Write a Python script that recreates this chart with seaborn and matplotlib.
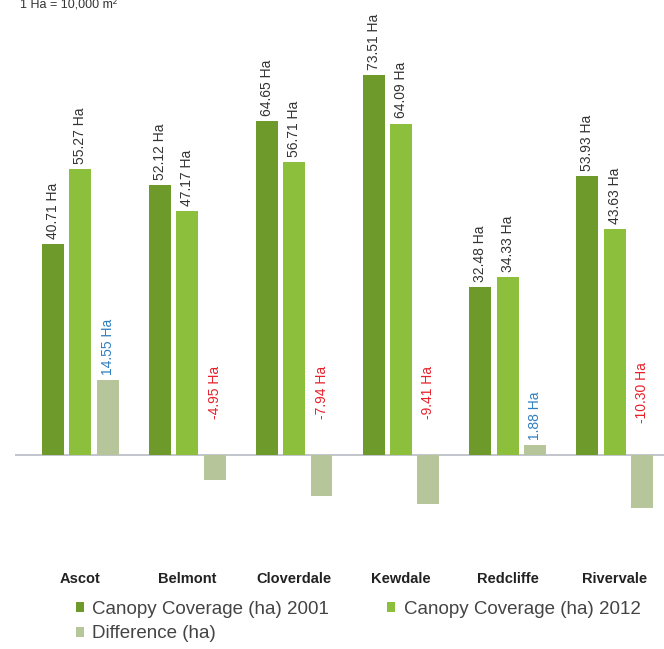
import matplotlib
matplotlib.use("Agg")
import matplotlib.pyplot as plt
import seaborn as sns
import pandas as pd
import numpy as np
from matplotlib.patches import Patch

suburbs = ["Ascot", "Belmont", "Cloverdale", "Kewdale", "Redcliffe", "Rivervale"]
cov_2001 = [40.71, 52.12, 64.65, 73.51, 32.48, 53.93]
cov_2012 = [55.27, 47.17, 56.71, 64.09, 34.33, 43.63]
difference = [14.55, -4.95, -7.94, -9.41, 1.88, -10.30]
series = ["Canopy Coverage (ha) 2001", "Canopy Coverage (ha) 2012", "Difference (ha)"]
colors = ["#6e9a2c", "#8cbf3c", "#b7c59a"]

df = pd.DataFrame({
    "Suburb": suburbs * 3,
    "Series": [series[0]] * 6 + [series[1]] * 6 + [series[2]] * 6,
    "Value": cov_2001 + cov_2012 + difference,
})

sns.set_theme(style="white")
plt.rcParams["font.family"] = ["Liberation Sans", "DejaVu Sans"]

fig = plt.figure(figsize=(6.64, 6.49), dpi=100)
ax = fig.add_axes([15 / 664, (649 - 565) / 649, 1 - 15 / 664, 565 / 649])

sns.barplot(data=df, x="Suburb", y="Value", hue="Series", hue_order=series,
            palette=colors, width=0.77, gap=0.2, ax=ax, legend=False,
            edgecolor="none", saturation=1)

ax.set_xlim(-0.61, 5.46)
ax.set_ylim(-21.3, 88.0)
for s in ax.spines.values():
    s.set_visible(False)
ax.set_yticks([])
ax.set_xlabel("")
ax.set_ylabel("")
ax.axhline(0, color="#b8bcc4", lw=1.2, zorder=0)
ax.tick_params(axis="x", length=0, pad=5)
for lbl in ax.get_xticklabels():
    lbl.set_fontweight("bold")
    lbl.set_fontsize(10.5)
    lbl.set_color("#222222")

vals = [cov_2001, cov_2012, difference]
for si, cont in enumerate(ax.containers):
    for bar, v in zip(cont, vals[si]):
        xc = bar.get_x() + bar.get_width() / 2
        txt = f"{v:.2f} Ha"
        if si < 2:
            ax.text(xc, v + 1.0, txt, rotation=90, ha="center", va="bottom",
                    fontsize=10, color="#333333")
        elif v >= 0:
            ax.text(xc, v + 1.0, txt, rotation=90, ha="center", va="bottom",
                    fontsize=10, color="#2f7fc1")
        else:
            ax.text(xc, 12.0, txt, rotation=90, ha="center", va="center",
                    fontsize=10, color="#e8202a")

fig.text(20 / 664, 1.0, "1 Ha = 10,000 m²", ha="left", va="top",
         fontsize=9, color="#333333")

handles = [Patch(facecolor=c, edgecolor="none") for c in colors]
order = [0, 2, 1]
fig.legend([handles[i] for i in order], [series[i] for i in order],
           ncol=2, loc="upper left", bbox_to_anchor=(76 / 664, 1 - 601 / 649),
           frameon=False, fontsize=13.5, handlelength=0.42, handleheight=0.42,
           handletextpad=0.45, columnspacing=3.1, labelspacing=0.4,
           labelcolor="#444444", borderaxespad=0, borderpad=0)

fig.savefig("out.png", dpi=100)
